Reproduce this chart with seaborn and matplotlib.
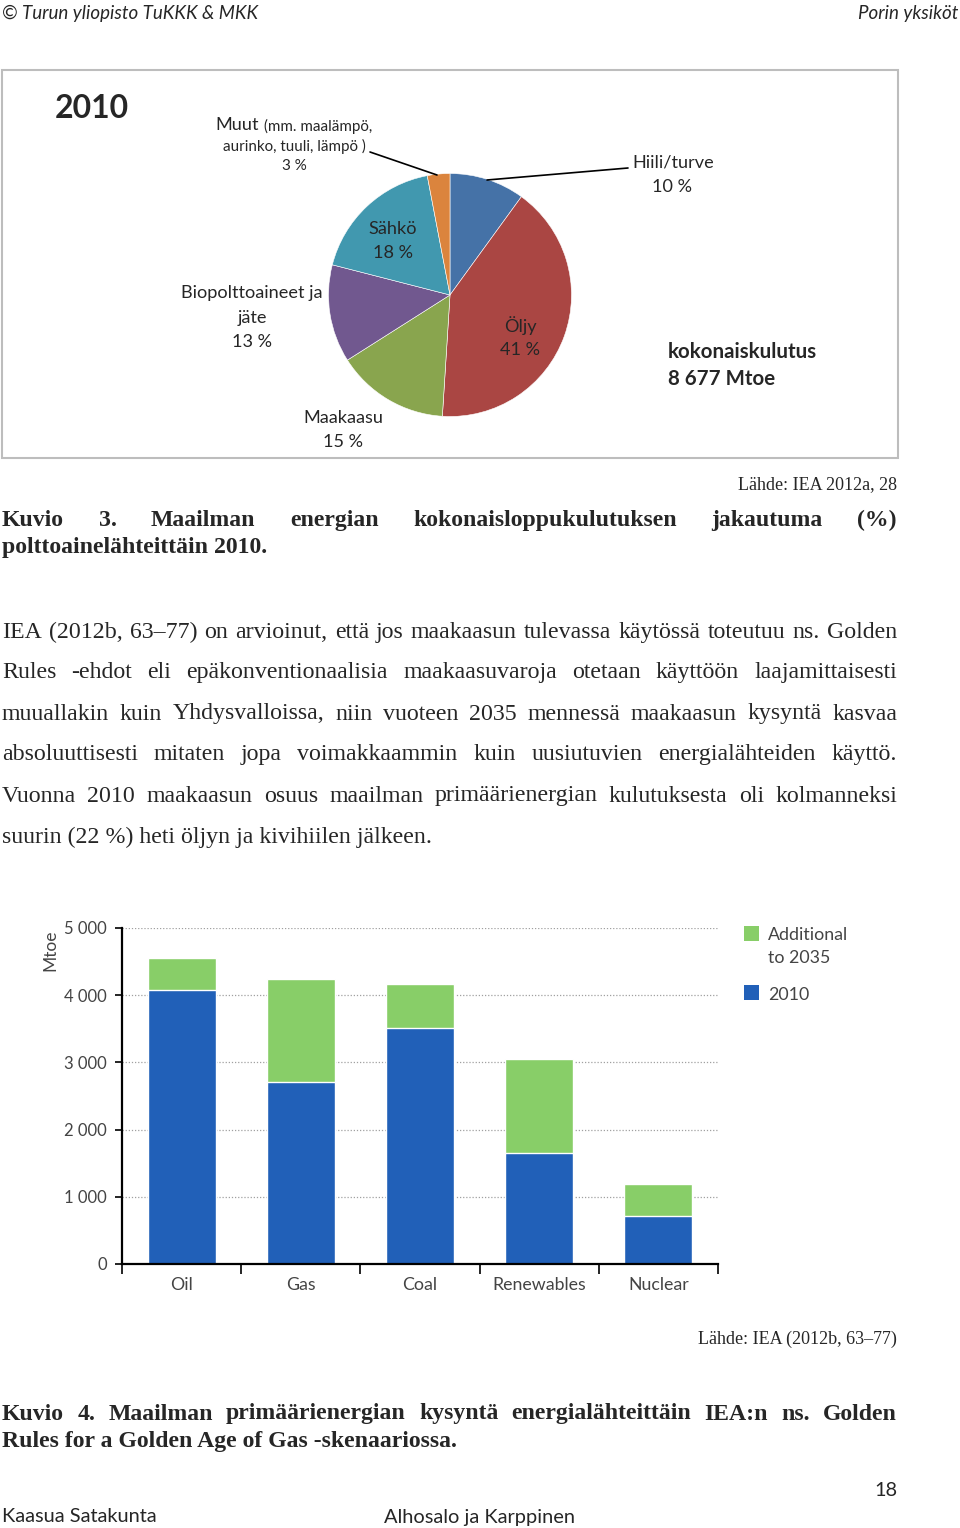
import matplotlib
matplotlib.use("Agg")
import matplotlib.pyplot as plt
import seaborn as sns
import pandas as pd
from matplotlib.patches import Rectangle
from matplotlib.lines import Line2D

# ---------------- data ----------------
pie_labels = ["Hiili/turve", "Öljy", "Maakaasu", "Biopolttoaineet ja jäte", "Sähkö", "Muut"]
pie_values = [10, 41, 15, 13, 18, 3]
pie_colors = ["#4572A7", "#AA4643", "#89A54E", "#71588F", "#4198AF", "#DB843D"]

categories = ["Oil", "Gas", "Coal", "Renewables", "Nuclear"]
values_2010 = [4080, 2710, 3510, 1650, 715]
additional_2035 = [480, 1530, 650, 1400, 475]
yticks = [0, 1000, 2000, 3000, 4000, 5000]
ytick_labels = ["0", "1 000", "2 000", "3 000", "4 000", "5 000"]

body_lines = [
    "IEA (2012b, 63–77) on arvioinut, että jos maakaasun tulevassa käytössä toteutuu ns. Golden",
    "Rules -ehdot eli epäkonventionaalisia maakaasuvaroja otetaan käyttöön laajamittaisesti",
    "muuallakin kuin Yhdysvalloissa, niin vuoteen 2035 mennessä maakaasun kysyntä kasvaa",
    "absoluuttisesti mitaten jopa voimakkaammin kuin uusiutuvien energialähteiden käyttö.",
    "Vuonna 2010 maakaasun osuus maailman primäärienergian kulutuksesta oli kolmanneksi",
    "suurin (22 %) heti öljyn ja kivihiilen jälkeen.",
]

# ---------------- setup ----------------
sns.set_style("white")
plt.rcParams["font.family"] = ["Lato", "DejaVu Sans"]
W, H = 960, 1528
fig = plt.figure(figsize=(W / 100, H / 100), dpi=100)
fig.patch.set_facecolor("white")
renderer = fig.canvas.get_renderer()

SANS = ["Lato", "DejaVu Sans"]
SERIF = ["Liberation Serif", "DejaVu Serif"]


def fx(x):
    return x / W


def fy(y):
    return 1 - y / H


def T(x, y, s, **kw):
    kw.setdefault("va", "center")
    return fig.text(fx(x), fy(y + 2), s, **kw)


def justify(line, y, x0, x1, **kw):
    words = line.split(" ")
    ts = [T(x0, y, w, ha="left", **kw) for w in words]
    widths = [t.get_window_extent(renderer).width for t in ts]
    gap = (x1 - x0 - sum(widths)) / max(len(words) - 1, 1)
    x = x0
    for t, w in zip(ts, widths):
        t.set_x(fx(x))
        x += w + gap


# header
T(2, 11, "© Turun yliopisto TuKKK & MKK", ha="left", fontsize=13.5, style="italic", family=SANS)
T(958, 11, "Porin yksiköt", ha="right", fontsize=13.5, style="italic", family=SANS)

# pie frame (behind everything)
fig.patches.append(Rectangle((fx(2), fy(458)), fx(896), (458 - 70) / H, transform=fig.transFigure,
                             facecolor="none", edgecolor="#bdbdbd", lw=1.5, zorder=-1))

# pie
cx, cy, r = 450, 295, 121.5
pax = fig.add_axes([fx(cx - r), fy(cy + r), 2 * r / W, 2 * r / H])
pax.pie(pie_values, colors=pie_colors, startangle=90, counterclock=False, radius=1,
        wedgeprops=dict(edgecolor="white", linewidth=0.4))
pax.set_xlim(-1, 1)
pax.set_ylim(-1, 1)
pax.set_aspect("equal")
pax.axis("off")

T(55, 107, "2010", ha="left", fontsize=23, fontweight="bold", family=SANS)
ps = 13.1
sm = 10.9
T(215, 123, "Muut", ha="left", fontsize=ps, family=SANS)
T(264, 124, "(mm. maalämpö,", ha="left", fontsize=sm, family=SANS)
T(294, 144, "aurinko, tuuli, lämpö )", ha="center", fontsize=sm, family=SANS)
T(294, 164, f"{pie_values[5]} %", ha="center", fontsize=sm, family=SANS)
T(632, 161, pie_labels[0], ha="left", fontsize=ps, family=SANS)
T(672, 185, f"{pie_values[0]} %", ha="center", fontsize=ps, family=SANS)
T(393, 227, pie_labels[4], ha="center", fontsize=ps, family=SANS)
T(393, 251, f"{pie_values[4]} %", ha="center", fontsize=ps, family=SANS)
T(252, 291, "Biopolttoaineet ja", ha="center", fontsize=ps, family=SANS)
T(252, 316, "jäte", ha="center", fontsize=ps, family=SANS)
T(252, 340, f"{pie_values[3]} %", ha="center", fontsize=ps, family=SANS)
T(520, 324, pie_labels[1], ha="center", fontsize=ps, family=SANS)
T(520, 348, f"{pie_values[1]} %", ha="center", fontsize=ps, family=SANS)
T(343, 416, pie_labels[2], ha="center", fontsize=ps, family=SANS)
T(343, 440, f"{pie_values[2]} %", ha="center", fontsize=ps, family=SANS)
T(668, 350, "kokonaiskulutus", ha="left", fontsize=14.8, fontweight="bold", family=SANS)
T(668, 377, "8 677 Mtoe", ha="left", fontsize=14.8, fontweight="bold", family=SANS)

for (x0, y0, x1, y1) in [(370, 152, 437, 175), (487, 180, 628, 168)]:
    fig.lines.append(Line2D([fx(x0), fx(x1)], [fy(y0), fy(y1)], transform=fig.transFigure,
                            color="black", lw=1.2))

BODY = 17.2
CAP = 17.1
SRC = 13

# caption 3
T(897, 483, "Lähde: IEA 2012a, 28", ha="right", fontsize=SRC, family=SERIF)
justify("Kuvio 3. Maailman energian kokonaisloppukulutuksen jakautuma (%)", 518, 2, 897,
        fontsize=CAP, fontweight="bold", family=SERIF)
T(2, 545, "polttoainelähteittäin 2010.", ha="left", fontsize=CAP, fontweight="bold", family=SERIF)

# body
for i, line in enumerate(body_lines):
    y = 630 + 41 * i
    if i == len(body_lines) - 1:
        T(2, y, line, ha="left", fontsize=BODY, family=SERIF)
    else:
        justify(line, y, 2, 897, fontsize=BODY, family=SERIF)

# ---------------- bar chart ----------------
df = pd.DataFrame({"category": categories,
                   "y2010": values_2010,
                   "total": [a + b for a, b in zip(values_2010, additional_2035)]})
bl, br, bt, bb = 122, 718, 928, 1264
bax = fig.add_axes([fx(bl), fy(bb), (br - bl) / W, (bb - bt) / H])
green = "#88CE68"
blue = "#2160B8"
sns.barplot(data=df, x="category", y="total", color=green, width=0.57, saturation=1,
            ax=bax, zorder=3)
sns.barplot(data=df, x="category", y="y2010", color=blue, width=0.57, saturation=1,
            ax=bax, zorder=4)
bax.set_xlim(-0.5, 4.5)
bax.set_ylim(0, 5000)
bax.set_xlabel("")
bax.set_ylabel("")
for s in ["top", "right"]:
    bax.spines[s].set_visible(False)
for s in ["left", "bottom"]:
    bax.spines[s].set_color("black")
    bax.spines[s].set_linewidth(1.6)
    bax.spines[s].set_zorder(6)
bax.set_yticks(yticks)
bax.set_yticklabels(ytick_labels)
bax.yaxis.grid(True, linestyle=(0, (1, 1.5)), color="#a0a0a0", lw=0.9, zorder=0)
bax.xaxis.grid(False)
bax.set_axisbelow(True)
bax.tick_params(axis="y", direction="out", length=5, width=1.2, color="black",
                labelsize=12, labelcolor="#444444", pad=6, left=True)
bax.set_xticks(range(len(categories)))
bax.set_xticklabels(categories)
bax.tick_params(axis="x", which="major", length=0, labelsize=12.8, labelcolor="#444444", pad=9)
bax.set_xticks([i - 0.5 for i in range(len(categories) + 1)], minor=True)
bax.tick_params(axis="x", which="minor", direction="out", length=7, width=1.2, color="black",
                bottom=True)
for lab in bax.get_xticklabels() + bax.get_yticklabels():
    lab.set_family(SANS)

T(50, 948, "Mtoe", ha="center", rotation=90, fontsize=12.5, color="#444444", family=SANS)

# legend
fig.patches.append(Rectangle((fx(744), fy(941)), 15 / W, 15 / H, transform=fig.transFigure,
                             facecolor=green, edgecolor="none"))
fig.patches.append(Rectangle((fx(744), fy(1000)), 15 / W, 15 / H, transform=fig.transFigure,
                             facecolor=blue, edgecolor="none"))
T(768, 933, "Additional", ha="left", fontsize=12.8, color="#444444", family=SANS)
T(768, 956, "to 2035", ha="left", fontsize=12.8, color="#444444", family=SANS)
T(768, 993, "2010", ha="left", fontsize=12.8, color="#444444", family=SANS)

# caption 4
T(897, 1337, "Lähde: IEA (2012b, 63–77)", ha="right", fontsize=SRC, family=SERIF)
justify("Kuvio 4. Maailman primäärienergian kysyntä energialähteittäin IEA:n ns. Golden", 1412, 2, 897,
        fontsize=CAP, fontweight="bold", family=SERIF)
T(2, 1440, "Rules for a Golden Age of Gas -skenaariossa.", ha="left", fontsize=CAP,
  fontweight="bold", family=SERIF)

# footer
T(897, 1488, "18", ha="right", fontsize=14.4, family=SANS)
T(2, 1515, "Kaasua Satakunta", ha="left", fontsize=14.4, family=SANS)
T(384, 1515, "Alhosalo ja Karppinen", ha="left", fontsize=14.4, family=SANS)

fig.savefig("out.png", dpi=100, facecolor="white")
